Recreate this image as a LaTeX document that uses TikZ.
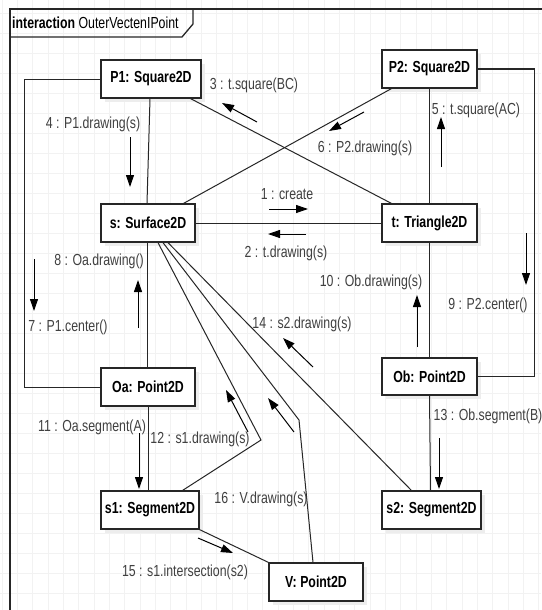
\documentclass[tikz,border=0pt]{standalone}
\usepackage{fontspec}
\setmainfont{Liberation Sans}[FakeStretch=0.77]
\usetikzlibrary{arrows.meta}
\begin{document}
\begin{tikzpicture}[x=1pt,y=-1pt,
  gridline/.style={draw=black!5,line width=0.8pt},
  obj/.style={draw=black!85,fill=white,line width=1.3pt,inner sep=0pt,
    font=\fontsize{16}{19}\selectfont\bfseries,
    preaction={fill=black!7,transform canvas={xshift=4pt,yshift=-4pt}}},
  link/.style={draw=black!85,line width=1pt},
  msg/.style={draw=black,line width=1pt,-{Triangle[length=12pt,width=8pt]}},
  lbl/.style={text=black!75,inner sep=0pt,font=\fontsize{16}{19}\selectfont}
]
\useasboundingbox (0,0) rectangle (541,610);
\fill[white] (0,0) rectangle (541,610);
% background grid
\foreach \i in {0,...,35} \draw[gridline] ({2+15.333*\i},0) -- ({2+15.333*\i},610);
\foreach \j in {0,...,30} \draw[gridline] (0,{13.3+20*\j}) -- (541,{13.3+20*\j});
% frame
\draw[black!85,line width=1.5pt] (10,612) -- (10,9) -- (543,9);
\draw[black!85,line width=1.3pt] (10,37) -- (182,37) -- (193,24) -- (193,9);
\node[anchor=west,inner sep=0pt,font=\fontsize{16}{19}\selectfont] (title) at (12,23) {\textbf{interaction} OuterVectenIPoint};

% connectors (drawn first, under boxes)
\coordinate (b1) at (261,440);
\coordinate (b2) at (299,420);

% objects
\node[obj,minimum width=100pt,minimum height=38pt] (P1) at (151,79) {P1: Square2D};
\node[obj,minimum width=95pt,minimum height=38pt] (P2) at (429.5,69) {P2: Square2D};
\node[obj,minimum width=94pt,minimum height=38pt] (s) at (148,223) {s: Surface2D};
\node[obj,minimum width=95pt,minimum height=38pt] (t) at (429.5,223) {t: Triangle2D};
\node[obj,minimum width=94pt,minimum height=38pt] (Oa) at (148,387) {Oa: Point2D};
\node[obj,minimum width=95pt,minimum height=37pt] (Ob) at (429.5,376.5) {Ob: Point2D};
\node[obj,minimum width=98pt,minimum height=38pt] (s1) at (150,510) {s1: Segment2D};
\node[obj,minimum width=99pt,minimum height=38pt] (s2) at (431.5,510) {s2: Segment2D};
\node[obj,minimum width=94pt,minimum height=38pt] (V) at (316,582) {V: Point2D};

% links
\draw[link] ([xshift=-1pt]P1.south) -- ([xshift=-1pt]s.north);
\draw[link] (P1.west) -- ++(-76,0) |- (Oa.west);
\draw[link] ([xshift=-11pt]P1.south east) -- ([xshift=10pt]t.north west);
\draw[link] ([xshift=10pt]P2.south west) -- ([xshift=-12pt]s.north east);
\draw[link] (P2.south) -- (t.north);
\draw[link] (P2.east) -- ++(57,0) |- (Ob.east);
\draw[link] (s.east) -- (t.west);
\draw[link] (t.south) -- (Ob.north);
\draw[link] ([xshift=-1pt]s.south) -- ([xshift=-1pt]Oa.north);
\draw[link] (Oa.south) -- ([xshift=-2pt]s1.north);
\draw[link] (Ob.south) -- ([xshift=-1pt]s2.north);
\draw[link] ([xshift=10pt]s.south) -- (b1) -- ([xshift=-17pt]s1.north east);
\draw[link] ([xshift=15pt]s.south) -- (b2) -- ([xshift=-3pt]V.north);
\draw[link] ([xshift=20pt]s.south) -- ([xshift=30pt]s2.north west);
\draw[link] (s1.south east) -- (V.north west);

% messages
\draw[msg] (269,209) -- (308,209);
\node[lbl] (l1) at (287,194) {1 : create};
\draw[msg] (306,234) -- (268,234);
\node[lbl] (l2) at (286,253) {2 : t.drawing(s)};
\draw[msg] (257,122) -- (222,103);
\node[lbl] (l3) at (254,85) {3 : t.square(BC)};
\draw[msg] (130,137) -- (130,187);
\node[lbl] (l4) at (93,124) {4 : P1.drawing(s)};
\draw[msg] (441,167) -- (441,117);
\node[lbl] (l5) at (476,110) {5 : t.square(AC)};
\draw[msg] (364,112) -- (329,131);
\node[lbl] (l6) at (365,148) {6 : P2.drawing(s)};
\draw[msg] (34,259) -- (34,311);
\node[lbl] (l7) at (68,327) {7 : P1.center()};
\draw[msg] (138,328) -- (138,280);
\node[lbl] (l8) at (99,261) {8 : Oa.drawing()};
\draw[msg] (526,233) -- (526,285);
\node[lbl] (l9) at (488,305) {9 : P2.center()};
\draw[msg] (417,347) -- (417,295);
\node[lbl] (l10) at (371,282) {10 : Ob.drawing(s)};
\draw[msg] (139,433) -- (139,489);
\node[lbl] (l11) at (92,427) {11 : Oa.segment(A)};
\draw[msg] (248,432) -- (226,390);
\node[lbl] (l12) at (200,439) {12 : s1.drawing(s)};
\draw[msg] (439,438) -- (439,489);
\node[lbl] (l13) at (488,416) {13 : Ob.segment(B)};
\draw[msg] (313,367) -- (283,338);
\node[lbl] (l14) at (302,324) {14 : s2.drawing(s)};
\draw[msg] (198,538) -- (233,553);
\node[lbl] (l15) at (185,572) {15 : s1.intersection(s2)};
\draw[msg] (294,432) -- (268,398);
\node[lbl] (l16) at (261,499) {16 : V.drawing(s)};
\end{tikzpicture}
\end{document}
